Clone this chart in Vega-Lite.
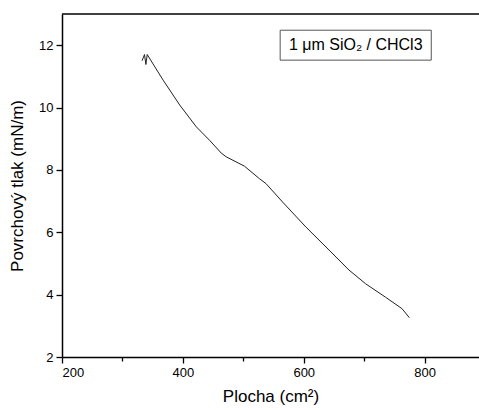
{
  "$schema": "https://vega.github.io/schema/vega-lite/v6.json",
  "width": 417,
  "height": 343,
  "autosize": {"type": "none"},
  "padding": {"left": 62, "top": 14, "right": 0, "bottom": 53},
  "background": "white",
  "config": {"view": {"stroke": null}, "font": "Liberation Sans"},
  "layer": [
    {
      "data": {"values": [
        {"area": 332.5, "pressure": 11.50},
        {"area": 336.5, "pressure": 11.70},
        {"area": 338.8, "pressure": 11.38},
        {"area": 341.0, "pressure": 11.70},
        {"area": 367.3, "pressure": 10.88},
        {"area": 394.8, "pressure": 10.08},
        {"area": 422.3, "pressure": 9.38},
        {"area": 444.2, "pressure": 8.95},
        {"area": 463.5, "pressure": 8.54},
        {"area": 471.7, "pressure": 8.42},
        {"area": 501.9, "pressure": 8.12},
        {"area": 526.6, "pressure": 7.72},
        {"area": 537.6, "pressure": 7.56},
        {"area": 565.0, "pressure": 6.97},
        {"area": 603.5, "pressure": 6.17},
        {"area": 641.9, "pressure": 5.43},
        {"area": 674.8, "pressure": 4.79},
        {"area": 702.3, "pressure": 4.35},
        {"area": 735.2, "pressure": 3.92},
        {"area": 762.6, "pressure": 3.55},
        {"area": 774.8, "pressure": 3.26}
      ]},
      "mark": {"type": "line", "stroke": "#222222", "strokeWidth": 1, "interpolate": "linear"},
      "encoding": {
        "x": {"field": "area", "type": "quantitative", "sort": null,
          "scale": {"domain": [200, 890], "nice": false, "zero": false},
          "axis": {"title": "Plocha (cm²)", "values": [200, 300, 400, 500, 600, 700, 800],
            "labelExpr": "datum.value % 200 == 0 ? datum.label : ''",
            "tickSize": {"condition": {"test": "datum.value % 200 == 0", "value": 6}, "value": 4},
            "domainColor": "black", "domainWidth": 1.5, "tickColor": "black", "tickWidth": 1.3,
            "labelFontSize": 13, "labelColor": "black", "labelPadding": 3,
            "titleFontSize": 17, "titleFontWeight": "normal", "titleColor": "black", "titlePadding": 9,
            "grid": false}},
        "y": {"field": "pressure", "type": "quantitative",
          "scale": {"domain": [2, 13], "nice": false, "zero": false},
          "axis": {"title": "Povrchový tlak (mN/m)", "values": [2, 3, 4, 5, 6, 7, 8, 9, 10, 11, 12],
            "labelExpr": "datum.value % 2 == 0 ? datum.label : ''",
            "tickSize": {"condition": {"test": "datum.value % 2 == 0", "value": 6}, "value": 4},
            "domainColor": "black", "domainWidth": 1.5, "tickColor": "black", "tickWidth": 1.3,
            "labelFontSize": 13, "labelColor": "black", "labelPadding": 3,
            "titleFontSize": 17, "titleFontWeight": "normal", "titleColor": "black", "titlePadding": 12,
            "grid": false}}
      }
    },
    {
      "data": {"values": [{"label": "1 μm SiO₂ / CHCl3"}]},
      "layer": [
        {
          "mark": {"type": "rule", "stroke": "black", "strokeWidth": 1.5},
          "encoding": {
            "x": {"datum": 200, "type": "quantitative"},
            "x2": {"datum": 890},
            "y": {"datum": 13, "type": "quantitative"}
          }
        },
        {
          "mark": {"type": "rect", "fill": "white", "stroke": "#555555", "strokeWidth": 1},
          "encoding": {
            "x": {"datum": 561, "type": "quantitative"},
            "x2": {"datum": 811},
            "y": {"datum": 12.48, "type": "quantitative"},
            "y2": {"datum": 11.52}
          }
        },
        {
          "mark": {"type": "text", "fontSize": 16, "fill": "#000000", "align": "center", "baseline": "middle"},
          "encoding": {
            "text": {"field": "label"},
            "x": {"datum": 686, "type": "quantitative"},
            "y": {"datum": 12.0, "type": "quantitative"}
          }
        }
      ]
    }
  ]
}
